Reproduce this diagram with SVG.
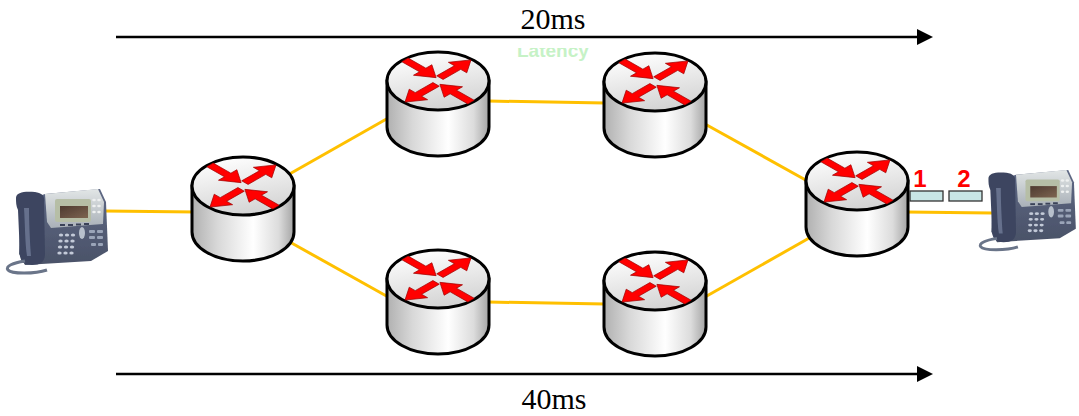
<svg xmlns="http://www.w3.org/2000/svg" xmlns:xlink="http://www.w3.org/1999/xlink" width="1079" height="416" viewBox="0 0 1079 416">
  <style>
    .link { stroke: #FFC000; stroke-width: 3; fill: none; }
    .timeline { stroke: #000; stroke-width: 2.5; fill: none; }
    .delay { font-family: "Liberation Serif", "Times New Roman", serif; font-size: 30px; fill: #000; text-anchor: middle; }
    .seq { font-family: "Liberation Sans", Arial, sans-serif; font-size: 24px; font-weight: bold; fill: #FF0000; text-anchor: middle; }
    .packet { fill: #C8E6E6; stroke: #333; stroke-width: 1.3; }
    .rtr-outline { stroke: #000; stroke-width: 3; }
    .flow { fill: #FF0000; stroke: #A00000; stroke-width: 0.8; }
  </style>
  <defs>
    <marker id="head" viewBox="0 0 16 16" markerWidth="16" markerHeight="16" refX="0" refY="8" markerUnits="userSpaceOnUse" orient="auto">
      <path d="M0,0 L16,8 L0,16 Z" fill="#000"/>
    </marker>
    <linearGradient id="sideGrad" x1="0" y1="0" x2="1" y2="0">
      <stop offset="0" stop-color="#b0b0b0"/>
      <stop offset="0.25" stop-color="#d8d8d8"/>
      <stop offset="0.6" stop-color="#ffffff"/>
      <stop offset="0.85" stop-color="#dcdcdc"/>
      <stop offset="1" stop-color="#a4a4a4"/>
    </linearGradient>
    <linearGradient id="topGrad" x1="0.3" y1="0" x2="0.6" y2="1">
      <stop offset="0" stop-color="#ffffff"/>
      <stop offset="1" stop-color="#d2d2d2"/>
    </linearGradient>
    <linearGradient id="panelGrad" x1="0" y1="0" x2="0" y2="1">
      <stop offset="0" stop-color="#e2e6e6"/>
      <stop offset="1" stop-color="#a9b0b8"/>
    </linearGradient>
    <linearGradient id="lcdGrad" x1="0" y1="0" x2="1" y2="1">
      <stop offset="0" stop-color="#4e3a30"/>
      <stop offset="1" stop-color="#7d6450"/>
    </linearGradient>
    <linearGradient id="bodyGrad" x1="0" y1="0" x2="0" y2="1">
      <stop offset="0" stop-color="#5e6884"/>
      <stop offset="1" stop-color="#4a5268"/>
    </linearGradient>
    <filter id="soft" x="-5%" y="-5%" width="110%" height="110%">
      <feGaussianBlur stdDeviation="0.5"/>
    </filter>
    <clipPath id="latClip">
      <rect x="500" y="48" width="120" height="20"/>
    </clipPath>

    <!-- one flow arrow, pointing along +x -->
    <path id="flowArrow" class="flow" d="M0,-4.5 H25 V-13 L44,0 L25,13 V4.5 H0 Z"/>

    <!-- router: cylinder with four flow arrows on the lid; origin = lid centre -->
    <g id="router">
      <path class="rtr-outline" d="M-51,0 V46 A51,29 0 0 0 51,46 V0 Z" fill="url(#sideGrad)"/>
      <ellipse class="rtr-outline" rx="51" ry="29" fill="url(#topGrad)"/>
      <g transform="scale(1,0.57)">
        <use xlink:href="#flowArrow" transform="translate(-33,-37) rotate(45)"/>
        <use xlink:href="#flowArrow" transform="translate(1.9,-5.9) rotate(-45)"/>
        <use xlink:href="#flowArrow" transform="translate(-1.9,5.9) rotate(135)"/>
        <use xlink:href="#flowArrow" transform="translate(33,37) rotate(-135)"/>
      </g>
    </g>

    <!-- IP phone: desk set with handset on the left -->
    <g id="phone" filter="url(#soft)">
      <path d="M16,14 L40,6 L95,1 L101,14 L103,63 L86,73 L20,77 L14,66 Z" fill="url(#bodyGrad)"/>
      <path d="M40,6 L93,1 L99,14 L98,36 L46,40 L42,34 Z" fill="url(#panelGrad)"/>
      <rect x="50" y="11" width="36" height="23" rx="2" fill="#b6bea6"/>
      <rect x="55" y="18" width="28" height="12" fill="url(#lcdGrad)"/>
      <g fill="#eef0f0">
        <ellipse cx="89" cy="12" rx="1.8" ry="1.3"/>
        <ellipse cx="94" cy="12" rx="1.8" ry="1.3"/>
        <ellipse cx="89" cy="18" rx="1.8" ry="1.3"/>
        <ellipse cx="94" cy="18" rx="1.8" ry="1.3"/>
        <ellipse cx="89" cy="24" rx="1.8" ry="1.3"/>
        <ellipse cx="94" cy="24" rx="1.8" ry="1.3"/>
      </g>
      <g fill="#3a4258">
        <rect x="55" y="36" width="5" height="2"/>
        <rect x="63" y="36" width="5" height="2"/>
        <rect x="71" y="35.5" width="5" height="2"/>
        <rect x="79" y="35" width="5" height="2"/>
      </g>
      <ellipse cx="77" cy="45" rx="3" ry="6" fill="#b8c0cc"/>
      <g fill="#c3cad8">
        <ellipse cx="56" cy="47" rx="2.2" ry="1.5"/>
        <ellipse cx="62" cy="47" rx="2.2" ry="1.5"/>
        <ellipse cx="68" cy="47" rx="2.2" ry="1.5"/>
        <ellipse cx="55.5" cy="53" rx="2.2" ry="1.5"/>
        <ellipse cx="61.5" cy="53" rx="2.2" ry="1.5"/>
        <ellipse cx="67.5" cy="53" rx="2.2" ry="1.5"/>
        <ellipse cx="55" cy="59" rx="2.2" ry="1.5"/>
        <ellipse cx="61" cy="59" rx="2.2" ry="1.5"/>
        <ellipse cx="67" cy="59" rx="2.2" ry="1.5"/>
        <ellipse cx="54.5" cy="65" rx="2.2" ry="1.5"/>
        <ellipse cx="60.5" cy="65" rx="2.2" ry="1.5"/>
        <ellipse cx="66.5" cy="65" rx="2.2" ry="1.5"/>
      </g>
      <g fill="#9aa4b8">
        <rect x="84" y="42" width="6" height="3" rx="1"/>
        <rect x="92" y="42" width="6" height="3" rx="1"/>
        <rect x="84" y="48" width="6" height="3" rx="1"/>
        <rect x="92" y="48" width="6" height="3" rx="1"/>
        <rect x="86" y="55" width="5" height="3" rx="1"/>
        <rect x="93" y="55" width="5" height="3" rx="1"/>
      </g>
      <path d="M11,10 C11,4 20,3 30,4 C37,5 40,8 39,14 L40,66 C40,74 35,77 27,77 C19,77 16,74 15,68 L13,22 C11,18 11,14 11,10 Z" fill="#3c4560"/>
      <path d="M19,20 C20,35 20,55 22,68 L26,68 C25,55 24,35 24,20 Z" fill="#7883a0" opacity="0.7"/>
      <path d="M20,73 C8,75 0,78 3,82 C6,86 30,86 42,82" fill="none" stroke="#6b7489" stroke-width="3"/>
    </g>
  </defs>

  <!-- one-way delay along each path -->
  <g id="timelines">
    <line class="timeline" x1="116" y1="37" x2="917" y2="37" marker-end="url(#head)"/>
    <text class="delay" x="553" y="29">20ms</text>
    <line class="timeline" x1="116" y1="374" x2="917" y2="374" marker-end="url(#head)"/>
    <text class="delay" x="554" y="409">40ms</text>
  </g>

  <text x="517" y="57" clip-path="url(#latClip)" font-family="'Liberation Sans', Arial, sans-serif" font-size="19" font-weight="bold" fill="#C6F2C6">Latency</text>

  <!-- network links -->
  <g id="links">
    <line class="link" x1="105" y1="211" x2="196" y2="212"/>
    <line class="link" x1="286" y1="176" x2="390" y2="117"/>
    <line class="link" x1="288" y1="241" x2="390" y2="298"/>
    <line class="link" x1="488" y1="101" x2="605" y2="103"/>
    <line class="link" x1="488" y1="302" x2="605" y2="304"/>
    <line class="link" x1="705" y1="124" x2="811" y2="183"/>
    <line class="link" x1="705" y1="297" x2="811" y2="237"/>
    <line class="link" x1="905" y1="212" x2="992" y2="213"/>
  </g>

  <g id="phone-left"><use xlink:href="#phone" transform="translate(5,188)"/></g>
  <g id="router-1"><use xlink:href="#router" transform="translate(243,186)"/></g>
  <g id="router-2"><use xlink:href="#router" transform="translate(438,81)"/></g>
  <g id="router-3"><use xlink:href="#router" transform="translate(655,82)"/></g>
  <g id="router-4"><use xlink:href="#router" transform="translate(438,279)"/></g>
  <g id="router-5"><use xlink:href="#router" transform="translate(655,281)"/></g>
  <g id="router-6"><use xlink:href="#router" transform="translate(857,181)"/></g>
  <g id="phone-right"><use xlink:href="#phone" transform="translate(978,169) scale(0.95)"/></g>

  <!-- packets queued toward the receiving phone -->
  <g id="packets">
    <rect class="packet" x="910" y="191" width="33" height="10"/>
    <rect class="packet" x="949" y="191" width="33" height="10"/>
    <text class="seq" x="920" y="187">1</text>
    <text class="seq" x="964" y="187">2</text>
  </g>
</svg>
